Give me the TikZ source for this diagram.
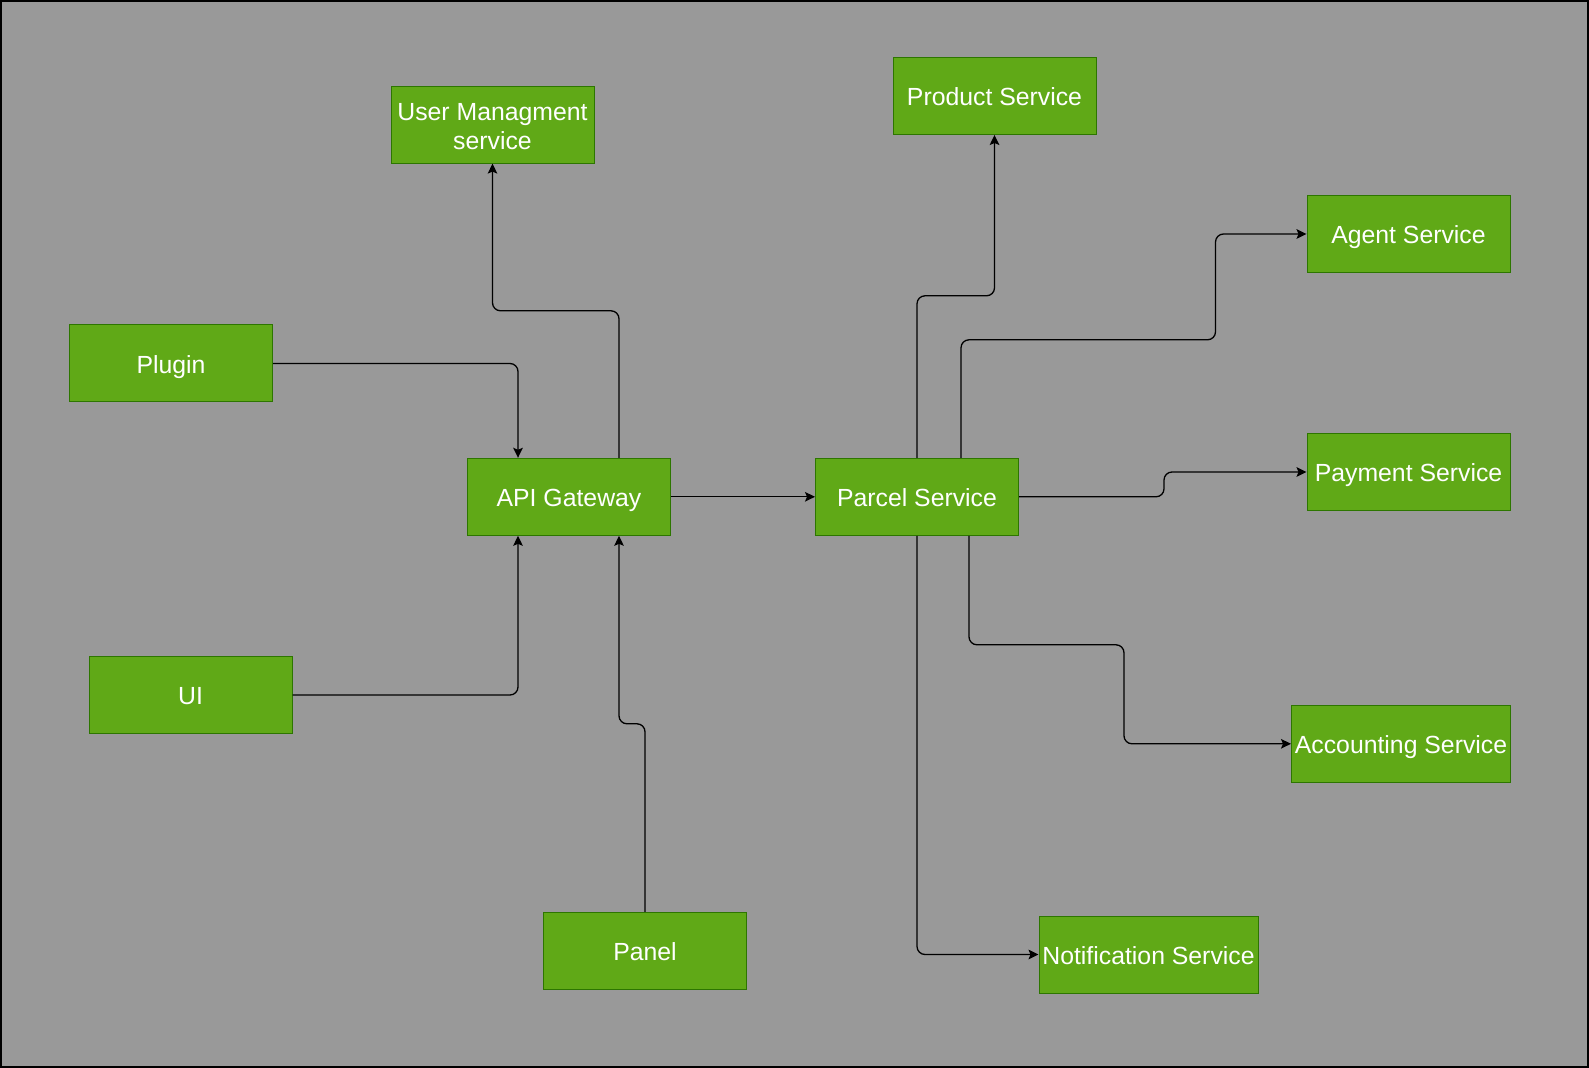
\documentclass[tikz,border=0pt]{standalone}
\usepackage{fontspec}
\setmainfont{Liberation Sans}
\usetikzlibrary{arrows.meta}
\definecolor{bggray}{HTML}{999999}
\definecolor{boxgreen}{HTML}{60A917}
\definecolor{boxedge}{HTML}{2D7600}

\begin{document}
\begin{tikzpicture}[x = 0.5pt, y = -0.5pt, line width = 0.65pt,
                    service/.style = {rectangle, draw = boxedge, line width = 0.5pt, fill = boxgreen,
                                      text = white, align = center, inner sep = 1pt,
                                      minimum width = 101.5pt, minimum height = 38.5pt,
                                      text height = 9.6pt, text depth = 0pt,
                                      font = \fontsize{12.4}{14.5}\selectfont},
                    wide/.style = {service, minimum width = 109.5pt},
                    twoline/.style = {service, text height = 25.2pt, text depth = 0pt},
                    link/.style = {draw = black, rounded corners = 4pt, -{Stealth[length = 5pt, width = 4.8pt, inset = 1pt]}}]
      \useasboundingbox (0, 0) rectangle (1589, 1068);
      \fill [bggray] (0, 0) rectangle (1589, 1068);
      \draw [line width = 1pt] (1, 1) rectangle (1588, 1067);
      \node [twoline] (user) at (492.5, 124.6) {User Managment\\service};
      \node [service] (product) at (994.5, 96) {Product Service};
      \node [service] (agent) at (1408.5, 234) {Agent Service};
      \node [service] (plugin) at (171, 363.5) {Plugin};
      \node [service] (api) at (569, 496.8) {API Gateway};
      \node [service] (parcel) at (917, 496.8) {Parcel Service};
      \node [service] (payment) at (1408.5, 472) {Payment Service};
      \node [service] (ui) at (190.5, 695) {UI};
      \node [wide] (accounting) at (1401, 743.8) {Accounting Service};
      \node [service] (panel) at (645, 950.8) {Panel};
      \node [wide] (notification) at (1148.5, 954.5) {Notification Service};
      \draw [link] ([xshift = 25pt]api.north) -- ++(0, -147) -| (user.south);
      \draw [link] (plugin.east) -| ([xshift = -25.5pt]api.north);
      \draw [link] (ui.east) -| ([xshift = -25.5pt]api.south);
      \draw [link] (panel.north) -- ++(0, -188) -| ([xshift = 25pt]api.south);
      \draw [link] (api.east) -- (parcel.west);
      \draw [link] (parcel.north) -- ++(0, -162) -| (product.south);
      \draw [link] ([xshift = 22pt]parcel.north) -- ++(0, -118) -| ([xshift = -45.5pt]agent.west) -- (agent.west);
      \draw [link] (parcel.east) -- ++(145, 0) |- (payment.west);
      \draw [link] ([xshift = 26pt]parcel.south) -- ++(0, 109) -| ([xshift = -83.5pt]accounting.west) -- (accounting.west);
      \draw [link] (parcel.south) |- (notification.west);
    \end{tikzpicture}
\end{document}
